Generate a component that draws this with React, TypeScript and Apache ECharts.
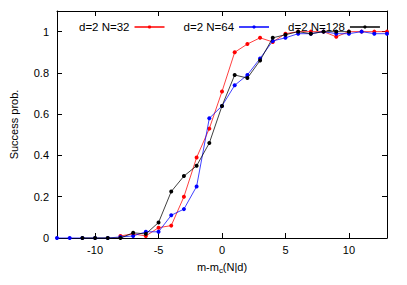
import React, { useEffect, useRef } from "react";
import * as echarts from "echarts";

const xs = [-13, -12, -11, -10, -9, -8, -7, -6, -5, -4, -3, -2, -1, 0, 1, 2, 3, 4, 5, 6, 7, 8, 9, 10, 11, 12, 13];
const n32 = [null, null, null, null, null, 0.01, 0.02, 0.01, 0.05, 0.06, 0.2, 0.39, 0.53, 0.71, 0.9, 0.94, 0.97, 0.95, 0.99, 1.0, 1.0, 1.0, 0.975, 1.0, 1.0, 1.0, 1.0];
const n64 = [0, 0, 0, 0, 0, 0.005, 0.01, 0.03, 0.03, 0.11, 0.14, 0.25, 0.58, 0.64, 0.74, 0.79, 0.87, 0.955, 0.97, 0.99, 0.99, 1.0, 0.99, 0.99, 1.0, 0.99, 0.99];
const n128 = [null, null, 0, 0, 0, 0, 0.025, 0.02, 0.075, 0.225, 0.3, 0.35, 0.46, 0.64, 0.79, 0.775, 0.86, 0.97, 0.985, 1.0, 0.99, 1.0, 1.0, 1.0, null, null, null];
const seriesNames = ["d=2 N=32", "d=2 N=64", "d=2 N=128"];
const colors = ["#ff0000", "#0000ff", "#000000"];
const xTicks = [-10, -5, 0, 5, 10];
const yTicks = [0, 0.2, 0.4, 0.6, 0.8, 1];

const font = "Liberation Sans, Arial, sans-serif";

export default function App() {
  const ref = useRef<HTMLDivElement>(null);
  useEffect(() => {
    if (!ref.current) return;
    const chart = echarts.init(ref.current, null, { renderer: "svg" });
    const toPairs = (arr: (number | null)[]) =>
      xs.map((x, i) => (arr[i] === null ? null : [x, arr[i]])).filter((p) => p !== null);
    const all = [n32, n64, n128];
    const axisLine = { show: true, onZero: false, lineStyle: { color: "#000", width: 1 } };
    const tick = (vals: number[]) => ({
      show: true,
      inside: true,
      length: 5,
      customValues: vals,
      lineStyle: { color: "#000", width: 1 },
    });
    chart.setOption({
      animation: false,
      backgroundColor: "#fff",
      textStyle: { fontFamily: font },
      grid: { left: 55, right: 20, top: 11, bottom: 47, containLabel: false },
      legend: {
        data: seriesNames,
        left: 74,
        top: 16,
        align: "right",
        itemWidth: 30,
        itemHeight: 4,
        itemGap: 18,
        textStyle: { fontFamily: font, fontSize: 11.5, color: "#000" },
      },
      xAxis: [
        {
          type: "value",
          position: "bottom",
          min: -13,
          max: 13,
          axisLine,
          axisTick: tick(xTicks),
          splitLine: { show: false },
          axisLabel: { customValues: xTicks, fontFamily: font, fontSize: 11, color: "#000", margin: 6 },
          name: "m-m{s|c}(N|d)",
          nameLocation: "middle",
          nameGap: 22,
          nameTextStyle: {
            fontFamily: font,
            fontSize: 11,
            color: "#000",
            rich: { s: { fontSize: 8, verticalAlign: "bottom", padding: [6, 0, 0, 0], fontFamily: font, color: "#000" } },
          },
        },
        {
          type: "value",
          position: "top",
          min: -13,
          max: 13,
          axisLine,
          axisTick: tick(xTicks),
          splitLine: { show: false },
          axisLabel: { show: false },
        },
      ],
      yAxis: [
        {
          type: "value",
          position: "left",
          min: 0,
          max: 1.1,
          axisLine,
          axisTick: tick(yTicks),
          splitLine: { show: false },
          axisLabel: { customValues: yTicks, fontFamily: font, fontSize: 11, color: "#000", margin: 8 },
          name: "Success prob.",
          nameLocation: "middle",
          nameGap: 38,
          nameTextStyle: { fontFamily: font, fontSize: 11, color: "#000" },
        },
        {
          type: "value",
          position: "right",
          min: 0,
          max: 1.1,
          axisLine,
          axisTick: tick(yTicks),
          splitLine: { show: false },
          axisLabel: { show: false },
        },
      ],
      series: all.map((arr, i) => ({
        name: seriesNames[i],
        type: "line",
        data: toPairs(arr),
        symbol: "circle",
        symbolSize: 4,
        itemStyle: { color: colors[i] },
        lineStyle: { color: colors[i], width: 1, opacity: 0.75 },
        z: 2 + i,
      })),
    });
    return () => chart.dispose();
  }, []);
  return <div ref={ref} style={{ width: 407, height: 285, margin: -8 }} />;
}
